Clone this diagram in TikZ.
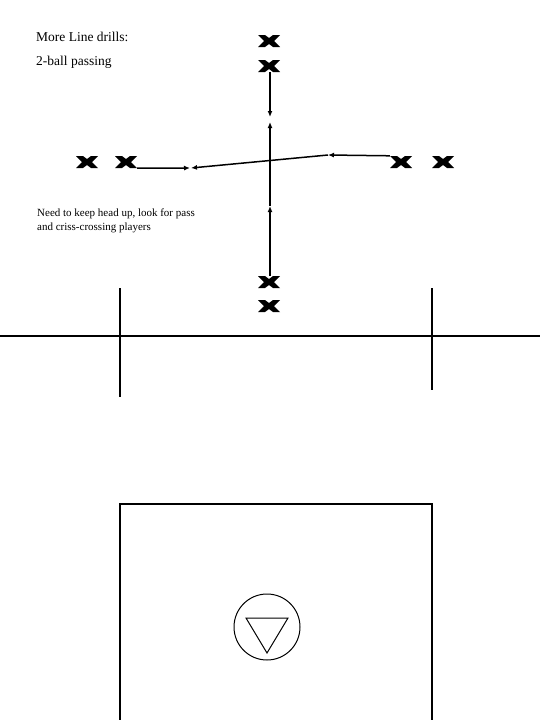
\documentclass[tikz,border=0pt]{standalone}
\usepackage{fontspec}
\setmainfont{Liberation Serif}
\usetikzlibrary{positioning, arrows.meta}

\begin{document}
\begin{tikzpicture}[x=1pt, y=-1pt, node distance=25pt,
		player/.style={minimum width=22pt, minimum height=12pt, inner sep=0,
			path picture={\fill[shift={(path picture bounding box.center)}]
				(-11pt,-6pt) -- (-4pt,-6pt) -- (0pt,-3pt) -- (4pt,-6pt) -- (11pt,-6pt) -- (5pt,0pt) -- (11pt,6pt) -- (4pt,6pt) -- (0pt,3pt) -- (-4pt,6pt) -- (-11pt,6pt) -- (-5pt,0pt) -- cycle;}},
		pass/.style={line width=1.5pt, -{Latex[length=6pt, width=5pt]}},
		field/.style={line width=1.05pt},
		title/.style={anchor=west, inner sep=0, font=\fontsize{13.5}{16}\selectfont}]
		\useasboundingbox (0,0) rectangle (540,720);
		% text
		\node[title] (head) at (36,37) {More Line drills:};
		\node[title] (sub) at (36,62) {2-ball passing};
		\node[anchor=west, inner sep=0, align=left, font=\fontsize{11}{14}\selectfont] (note) at (37,221) {Need to keep head up, look for pass\\and criss-crossing players};
		% players
		\node[player] (top1) at (269,41) {};
		\node[player, below of=top1] (top2) {};
		\node[player] (bot1) at (269,282) {};
		\node[player, below of=bot1, yshift=1] (bot2) {};
		\node[player] (left2) at (126,162) {};
		\node[player, left of=left2, xshift=-14] (left1) {};
		\node[player] (right1) at (401,162) {};
		\node[player, right of=right1, xshift=17] (right2) {};
		\coordinate (vtop) at (270,117);
		\coordinate (vbot) at (270,122);
		\coordinate (vmid) at (270,206);
		\coordinate (hleft) at (190,168);
		\coordinate (hright) at (328,155);
		% passes
		\draw[pass] (top2.south -| vtop) -- (vtop);
		\draw[pass] (bot1.north -| vmid) -- (vmid);
		\draw[pass] (vmid) -- (vbot);
		\draw[pass] (left2.south east) -- (hleft);
		\draw[pass] (right1.north west) -- (hright);
		\draw[pass] (hright) -- ([xshift=1]hleft);
		% field
		\draw[field] (0,336) -- (540,336);
		\draw[field] (120,288) -- (120,397);
		\draw[field] (432,288) -- (432,390);
		\draw[field] (120,722) -- (120,504) -- (432,504) -- (432,722);
		\draw[line width=1pt] (267,627) circle (33);
		\draw[line width=1pt] (246,618) -- (288,618) -- (267,653) -- cycle;
	\end{tikzpicture}
\end{document}
